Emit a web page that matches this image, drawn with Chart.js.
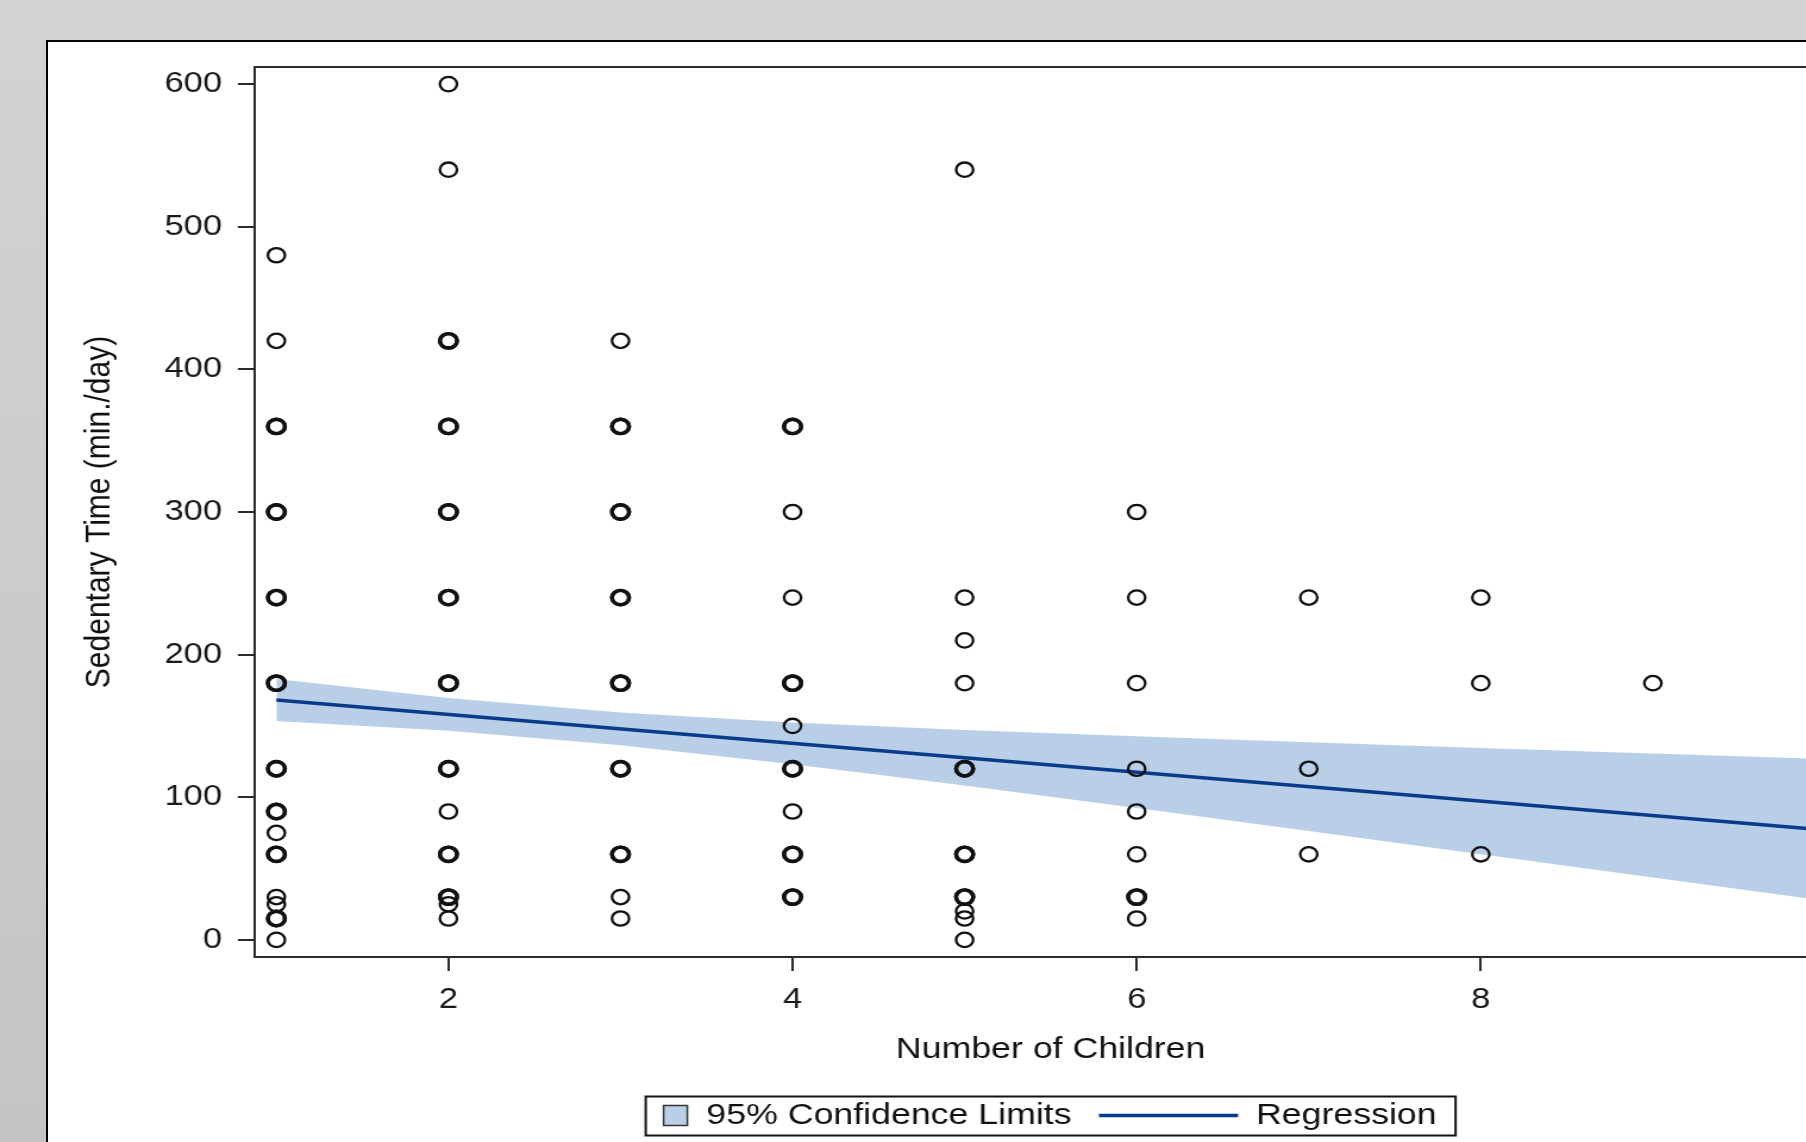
<!DOCTYPE html>
<html>
<head>
<meta charset="utf-8">
<script src="https://cdn.jsdelivr.net/npm/chart.js@4.4.1/dist/chart.umd.min.js"></script>
<style>
  html, body { margin: 0; padding: 0; width: 1806px; height: 1142px; overflow: hidden;
    background: linear-gradient(#d3d3d3, #c4c4c4); }
  #frame { position: absolute; left: 46px; top: 40px; width: 2000px; height: 1300px;
    background: #ffffff; border-left: 2px solid #000; border-top: 2px solid #000; }
  #wrap { position: absolute; left: 0; top: 0; width: 1904px; height: 1142px; }
  #c { display: block; }
</style>
</head>
<body>
<div id="frame"></div>
<div id="wrap"><canvas id="c" width="1600" height="1142" style="width:1904px;height:1142px"></canvas></div>
<script>
// ---------------- data ----------------
const childrenValues = [1, 2, 3, 4, 5, 6, 7, 8, 9];
const minutes1 = [480, 420, 360, 360, 300, 300, 240, 240, 180, 180, 120, 120, 90, 90, 75, 60, 60, 30, 25, 15, 15, 0];
const minutes2 = [600, 540, 420, 420, 360, 360, 300, 300, 240, 240, 180, 180, 120, 120, 90, 60, 60, 30, 30, 25, 15];
const minutes3 = [420, 360, 360, 300, 300, 240, 240, 180, 180, 120, 120, 60, 60, 30, 15];
const minutes4 = [360, 360, 300, 240, 180, 180, 150, 120, 120, 90, 60, 60, 30, 30];
const minutes5 = [540, 240, 210, 180, 120, 120, 60, 60, 30, 30, 20, 15, 0];
const minutes6 = [300, 240, 180, 120, 90, 60, 30, 30, 15];
const minutes7 = [240, 120, 60];
const minutes8 = [240, 180, 60];
const minutes9 = [180];

const bandX     = [1, 2, 3, 4, 5, 6, 7, 8, 9, 10];
const bandUpper = [182.9, 169.6, 159.4, 152.5, 147.2, 142.8, 138.6, 134.5, 130.6, 126.8];
const bandLower = [153.5, 146.6, 136.4, 123.1, 108.2, 92.4, 76.4, 60.1, 43.8, 27.4];

const fitX = [1, 10];
const fitY = [168.2, 77.1];

const xTicks = [2, 4, 6, 8, 10];
const yTicks = [0, 100, 200, 300, 400, 500, 600];

const xTitle = 'Number of Children';
const yTitle = 'Sedentary Time (min./day)';
const legendLabels = ['95% Confidence Limits', 'Regression'];

// ---------------- build ----------------
const minutesByChildren = [minutes1, minutes2, minutes3, minutes4, minutes5, minutes6, minutes7, minutes8, minutes9];
const points = [];
childrenValues.forEach((c, i) => minutesByChildren[i].forEach(m => points.push({ x: c, y: m })));
const dupCount = {};
points.forEach(p => { const k = p.x + '_' + p.y; dupCount[k] = (dupCount[k] || 0) + 1; });

const FONT = '"Liberation Sans", Arial, Helvetica, sans-serif';
const BAND = '#b9cfe8';
const NAVY = '#0b3a88';
const AXIS = '#2b2b2b';

const decor = {
  id: 'decor',
  afterDraw(chart) {
    const { ctx, chartArea: a } = chart;
    ctx.save();
    ctx.strokeStyle = AXIS;
    ctx.lineWidth = 2;
    ctx.beginPath();
    ctx.moveTo(a.left, a.top);
    ctx.lineTo(a.right, a.top);
    ctx.lineTo(a.right, a.bottom);
    ctx.stroke();

    ctx.font = '30px ' + FONT;
    const w1 = ctx.measureText(legendLabels[0]).width;
    const w2 = ctx.measureText(legendLabels[1]).width;
    const padL = 15, sw = 20, g1 = 16, g2 = 23, ln = 117, g3 = 15, padR = 16;
    const total = padL + sw + g1 + w1 + g2 + ln + g3 + w2 + padR;
    const cx = (a.left + a.right) / 2;
    let x = cx - total / 2;
    const top = a.bottom + 139.5, h = 39, mid = a.bottom + 158.5;
    ctx.strokeStyle = '#111';
    ctx.lineWidth = 2;
    ctx.strokeRect(x, top, total, h);
    x += padL;
    ctx.fillStyle = BAND;
    ctx.fillRect(x, mid - sw / 2, sw, sw);
    ctx.strokeStyle = '#333';
    ctx.lineWidth = 1.5;
    ctx.strokeRect(x, mid - sw / 2, sw, sw);
    x += sw + g1;
    ctx.fillStyle = '#111';
    ctx.textBaseline = 'middle';
    ctx.textAlign = 'left';
    ctx.fillText(legendLabels[0], x, mid);
    x += w1 + g2;
    ctx.strokeStyle = NAVY;
    ctx.lineWidth = 3.5;
    ctx.beginPath();
    ctx.moveTo(x, mid);
    ctx.lineTo(x + ln, mid);
    ctx.stroke();
    x += ln + g3;
    ctx.fillText(legendLabels[1], x, mid);
    ctx.restore();
  }
};

new Chart(document.getElementById('c'), {
  type: 'scatter',
  data: {
    datasets: [
      {
        label: 'lower',
        data: bandX.map((x, i) => ({ x, y: bandLower[i] })),
        showLine: true, borderColor: 'rgba(0,0,0,0)', borderWidth: 1,
        pointRadius: 0, fill: false, order: 3
      },
      {
        label: legendLabels[0],
        data: bandX.map((x, i) => ({ x, y: bandUpper[i] })),
        showLine: true, borderColor: 'rgba(0,0,0,0)', borderWidth: 1,
        pointRadius: 0, fill: '-1', backgroundColor: BAND, order: 2
      },
      {
        label: legendLabels[1],
        data: fitX.map((x, i) => ({ x, y: fitY[i] })),
        showLine: true, borderColor: NAVY, borderWidth: 3.5,
        pointRadius: 0, fill: false, order: 1
      },
      {
        label: 'Observed',
        data: points,
        showLine: false,
        pointStyle: 'circle',
        pointRadius: 7.2,
        pointBorderColor: '#111',
        pointBackgroundColor: 'rgba(0,0,0,0)',
        pointBorderWidth: (ctx) => {
          const r = ctx.raw;
          if (!r) return 2.3;
          return dupCount[r.x + '_' + r.y] > 1 ? 3.4 : 2.3;
        },
        order: 0
      }
    ]
  },
  options: {
    responsive: false,
    devicePixelRatio: 1,
    animation: false,
    events: [],
    layout: { padding: { left: 0, right: 48.1, top: 67, bottom: 65 } },
    plugins: { legend: { display: false }, tooltip: { enabled: false }, title: { display: false } },
    scales: {
      x: {
        type: 'linear',
        min: 0.873, max: 10.127,
        afterBuildTicks: (s) => { s.ticks = xTicks.map(v => ({ value: v })); },
        afterFit: (s) => { s.height = 120; },
        grid: { display: true, drawOnChartArea: false, drawTicks: true, tickLength: 14,
                tickWidth: 2, lineWidth: 2, tickColor: AXIS, color: AXIS },
        border: { display: true, color: AXIS, width: 2 },
        ticks: { padding: 11.5, color: '#1a1a1a', font: { family: FONT, size: 29 },
                 autoSkip: false, maxRotation: 0, minRotation: 0 },
        title: { display: true, text: xTitle, color: '#111', font: { family: FONT, size: 30 },
                 padding: { top: 0, bottom: 9 } }
      },
      y: {
        type: 'linear',
        min: -12, max: 612,
        afterBuildTicks: (s) => { s.ticks = yTicks.map(v => ({ value: v })); },
        afterFit: (s) => { s.width = 213.9; },
        grid: { display: true, drawOnChartArea: false, drawTicks: true, tickLength: 14,
                tickWidth: 2, lineWidth: 2, tickColor: AXIS, color: AXIS },
        border: { display: true, color: AXIS, width: 2 },
        ticks: { padding: 13.3, color: '#1a1a1a', font: { family: FONT, size: 29 } },
        title: { display: true, text: yTitle, color: '#111', font: { family: FONT, size: 30 },
                 padding: { top: 66, bottom: 0 } }
      }
    }
  },
  plugins: [decor]
});
</script>
</body>
</html>
